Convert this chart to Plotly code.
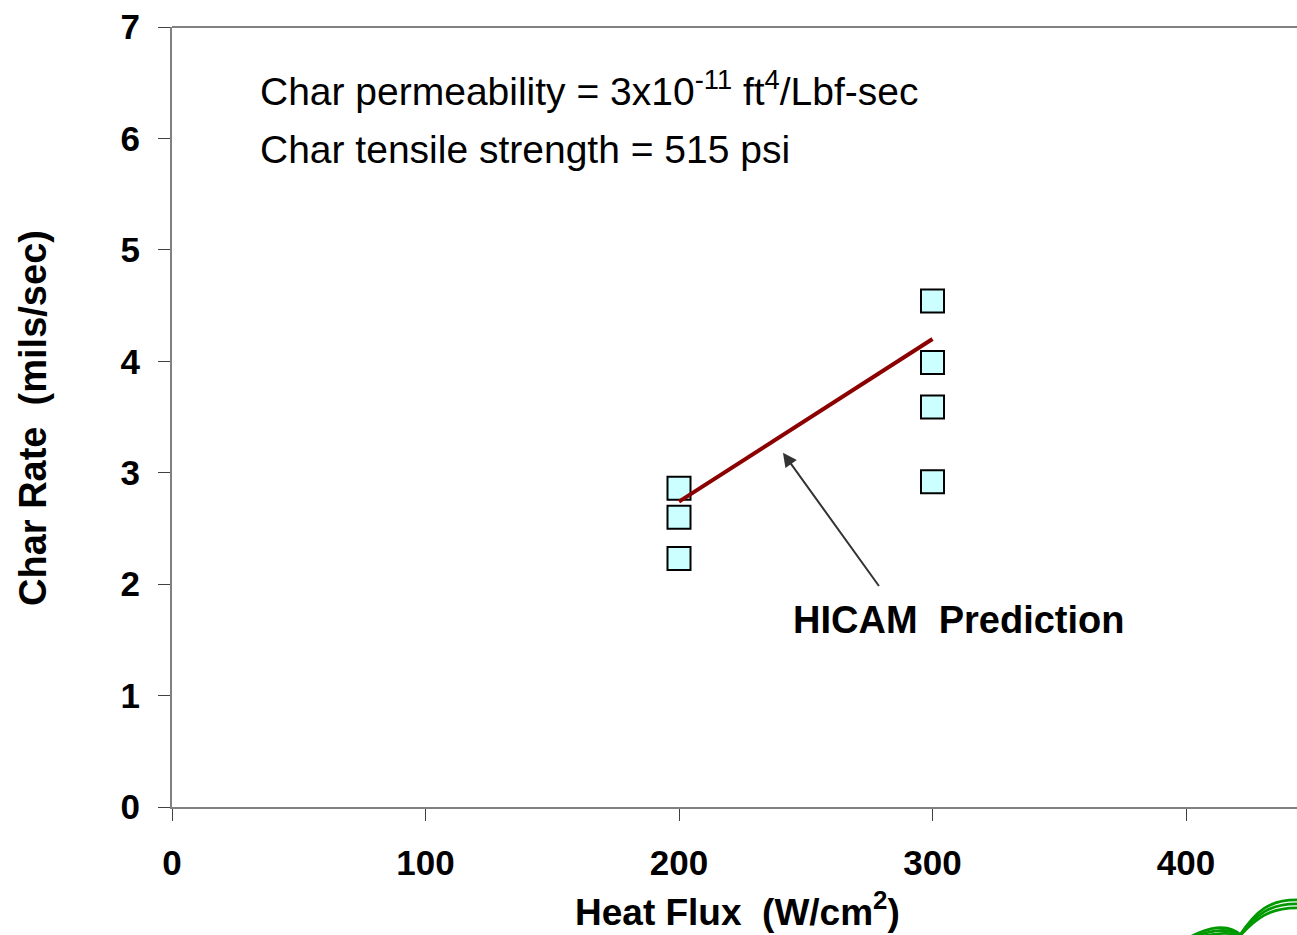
import plotly.graph_objects as go

# ---- data ----
heat_flux_200 = [200, 200, 200]
char_rate_200 = [2.86, 2.60, 2.23]
heat_flux_300 = [300, 300, 300, 300]
char_rate_300 = [4.54, 3.99, 3.59, 2.92]
pred_x = [200, 300]
pred_y = [2.74, 4.20]
x_ticks = [0, 100, 200, 300, 400]
y_ticks = [0, 1, 2, 3, 4, 5, 6, 7]

W, H = 1297, 935
L, R, T, B = 172, 0, 27, 128
PW, PH = W - L - R, H - T - B
FONT = "Liberation Sans, Arial, sans-serif"

def px(xp):
    return (xp - L) / PW

def py(yp):
    return (H - B - yp) / PH

fig = go.Figure()
fig.add_trace(go.Scatter(
    x=heat_flux_200 + heat_flux_300, y=char_rate_200 + char_rate_300,
    mode="markers",
    marker=dict(symbol="square", size=23, color="#CCFFFF",
                line=dict(color="#000000", width=2)),
    showlegend=False, cliponaxis=False))
fig.add_trace(go.Scatter(
    x=pred_x, y=pred_y, mode="lines",
    line=dict(color="#8B0000", width=4), showlegend=False))

axis_common = dict(showgrid=False, zeroline=False, showline=True,
                   linecolor="#808080", linewidth=2, ticks="outside",
                   ticklen=12, tickwidth=1, tickcolor="#404040",
                   tickfont=dict(family=FONT, size=35, color="#000000",
                                 weight="bold"))
fig.update_xaxes(range=[0, PW / 2.535], tickvals=x_ticks,
                 ticklabelstandoff=12, **axis_common)
fig.update_yaxes(range=[0, 7], tickvals=y_ticks,
                 ticklabelstandoff=11, **axis_common)

# top border line
shapes = [dict(type="line", xref="paper", yref="paper", x0=0, x1=1, y0=1, y1=1,
               line=dict(color="#808080", width=2))]

# green logo swoosh (decoration)
def path(pts):
    s = "M %f,%f" % (px(pts[0][0]), py(pts[0][1]))
    s += " C " + " ".join("%f,%f" % (px(a), py(b)) for a, b in pts[1:])
    return s

for d in (0, 4, 8):
    shapes.append(dict(type="path", xref="paper", yref="paper",
                       path=path([(1188, 938), (1205, 929 + d), (1228, 920 + d), (1244, 938)]),
                       line=dict(color="#009900", width=2.8)))
    shapes.append(dict(type="path", xref="paper", yref="paper",
                       path=path([(1238, 938), (1256, 910 + d), (1270, 899 + d), (1300, 900 + d)]),
                       line=dict(color="#009900", width=2.8)))

annotations = [
    dict(x=33.9, y=6.45, xref="x", yref="y", xanchor="left", yanchor="middle",
         text="Char permeability = 3x10<sup>-11</sup> ft<sup>4</sup>/Lbf-sec",
         showarrow=False, font=dict(family=FONT, size=39, color="#000000")),
    dict(x=33.9, y=5.90, xref="x", yref="y", xanchor="left", yanchor="middle",
         text="Char tensile strength = 515 psi",
         showarrow=False, font=dict(family=FONT, size=39, color="#000000")),
    dict(x=310.1, y=1.68, xref="x", yref="y", xanchor="center", yanchor="middle",
         text="<b>HICAM  Prediction</b>", showarrow=False,
         font=dict(family=FONT, size=38, color="#000000")),
    dict(x=241.0, y=3.18, xref="x", yref="y", ax=279.3, ay=1.97,
         axref="x", ayref="y", text="", showarrow=True,
         arrowhead=2, arrowsize=1.4, arrowwidth=2, arrowcolor="#333333"),
    dict(x=px(737), y=py(935), xref="paper", yref="paper",
         xanchor="center", yanchor="bottom",
         text="<b>Heat Flux  (W/cm<sup>2</sup>)</b>", showarrow=False,
         font=dict(family=FONT, size=37, color="#000000")),
    dict(x=px(33), y=py(418), xref="paper", yref="paper",
         xanchor="center", yanchor="middle", textangle=-90,
         text="<b>Char Rate  (mils/sec)</b>", showarrow=False,
         font=dict(family=FONT, size=38, color="#000000")),
]

fig.update_layout(width=W, height=H, margin=dict(l=L, r=R, t=T, b=B),
                  paper_bgcolor="white", plot_bgcolor="white",
                  shapes=shapes, annotations=annotations, showlegend=False)
fig.write_html("out.html")
